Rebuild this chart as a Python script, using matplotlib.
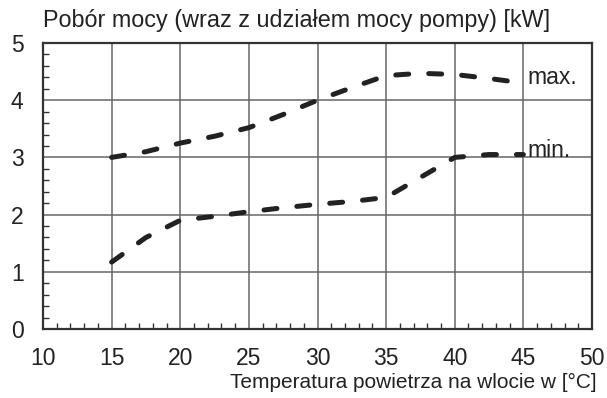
import matplotlib.pyplot as plt
from matplotlib.ticker import MultipleLocator

plt.rcParams['font.family'] = ['Liberation Sans', 'DejaVu Sans']

# inlet air temperature [°C]
temp = [15, 17.5, 20, 22.5, 25, 27.5, 30, 32.5, 35, 37.5, 40, 42.5, 45]
# power consumption incl. pump [kW]
p_max = [3.0, 3.1, 3.25, 3.37, 3.52, 3.75, 4.0, 4.22, 4.43, 4.47, 4.45, 4.38, 4.3]
p_min = [1.17, 1.6, 1.9, 1.97, 2.05, 2.12, 2.18, 2.23, 2.3, 2.65, 3.0, 3.05, 3.05]

fig = plt.figure(figsize=(6.07, 3.98), dpi=100)
ax = fig.add_axes([43 / 607, 69 / 398, 549 / 607, 286 / 398])

line_kw = dict(color='#222222', linewidth=3.6, dashes=(2.6, 4.0), dash_capstyle='round')
ax.plot(temp, p_max, **line_kw)
ax.plot(temp, p_min, **line_kw)

ax.text(45.3, 4.4, 'max.', fontsize=16.5, color='#222222', va='center')
ax.text(45.3, 3.12, 'min.', fontsize=16.5, color='#222222', va='center')

ax.set_xlim(10, 50)
ax.set_ylim(0, 5)
ax.xaxis.set_major_locator(MultipleLocator(5))
ax.yaxis.set_major_locator(MultipleLocator(1))
ax.xaxis.set_minor_locator(MultipleLocator(1))
ax.yaxis.set_minor_locator(MultipleLocator(0.2))
ax.tick_params(which='major', length=0, pad=13, labelsize=16.5, colors='#222222')
ax.tick_params(axis='y', which='major', pad=14)
ax.tick_params(which='minor', direction='in', length=4, width=1, color='#333333')
ax.grid(True, which='major', color='#666666', linewidth=1.1)
for s in ax.spines.values():
    s.set_color('#333333')
    s.set_linewidth(1.6)

fig.text(43 / 607, 1 - 27 / 398, 'Pobór mocy (wraz z udziałem mocy pompy) [kW]',
         fontsize=16.8, color='#222222', ha='left', va='baseline')
fig.text(597 / 607, 1 - 388 / 398, 'Temperatura powietrza na wlocie w [°C]',
         fontsize=15, color='#222222', ha='right', va='baseline')

fig.savefig('out.png', dpi=100)
